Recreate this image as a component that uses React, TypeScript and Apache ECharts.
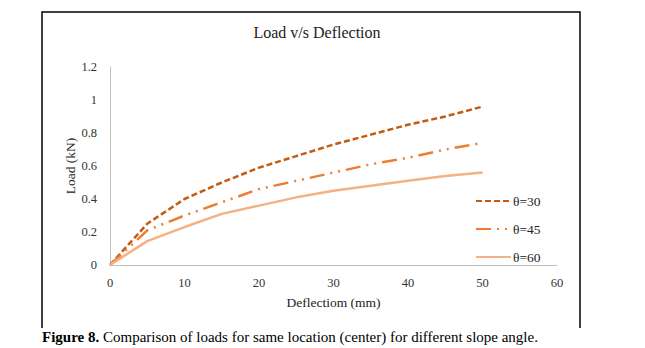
import React, { useEffect, useRef } from "react";
import * as echarts from "echarts";

// Deflection steps (mm) and measured loads (kN) per slope angle
const deflection = [0, 5, 10, 15, 20, 25, 30, 35, 40, 45, 50];
const loadTheta30 = [0, 0.25, 0.4, 0.5, 0.59, 0.66, 0.73, 0.79, 0.85, 0.9, 0.96];
const loadTheta45 = [0, 0.21, 0.3, 0.38, 0.46, 0.51, 0.56, 0.61, 0.65, 0.7, 0.74];
const loadTheta60 = [0, 0.145, 0.23, 0.31, 0.36, 0.41, 0.45, 0.48, 0.51, 0.54, 0.56];
const seriesNames = ["θ=30", "θ=45", "θ=60"];

const FONT = "'Liberation Serif', 'Times New Roman', serif";

const pairs = (ys: number[]) => deflection.map((x, i) => [x, ys[i]]);

export default function App() {
  const ref = useRef<HTMLDivElement>(null);

  useEffect(() => {
    if (!ref.current) return;
    const chart = echarts.init(ref.current, null, { renderer: "svg" });
    const tickText = { color: "#333", fontFamily: FONT, fontSize: 12.5 };
    chart.setOption({
      animation: false,
      backgroundColor: "#ffffff",
      title: {
        text: "Load v/s Deflection",
        left: 312,
        top: 19,
        textAlign: "center",
        textStyle: { color: "#222", fontFamily: FONT, fontSize: 16, fontWeight: "normal" },
      },
      grid: { left: 110, right: 88, top: 67, bottom: 83, containLabel: false },
      xAxis: {
        type: "value",
        min: 0,
        max: 60,
        interval: 10,
        name: "Deflectiom (mm)",
        nameLocation: "middle",
        nameGap: 30,
        nameMoveOverlap: false,
        nameTextStyle: { color: "#222", fontFamily: FONT, fontSize: 13.5 },
        axisLine: { show: true, lineStyle: { color: "#BFBFBF", width: 1 } },
        axisTick: { show: false },
        splitLine: { show: false },
        axisLabel: { ...tickText, margin: 11 },
      },
      yAxis: {
        type: "value",
        min: 0,
        max: 1.2,
        interval: 0.2,
        name: "Load (kN)",
        nameLocation: "middle",
        nameGap: 33,
        nameMoveOverlap: false,
        nameRotate: 90,
        nameTextStyle: { color: "#222", fontFamily: FONT, fontSize: 13.5 },
        axisLine: { show: true, lineStyle: { color: "#BFBFBF", width: 1 } },
        axisTick: { show: false },
        splitLine: { show: false },
        axisLabel: {
          ...tickText,
          margin: 13,
          formatter: (v: number) => String(Math.round(v * 10) / 10),
        },
      },
      legend: {
        orient: "vertical",
        left: 470,
        top: 189,
        itemWidth: 35,
        itemHeight: 12,
        itemGap: 14,
        data: seriesNames,
        // legend keys show the line pattern only, no marker
        itemStyle: { color: "rgba(0,0,0,0)", borderColor: "rgba(0,0,0,0)", borderWidth: 0 },
        textStyle: { color: "#222", fontFamily: FONT, fontSize: 13.5, padding: [0, 0, 0, -3] },
      },
      series: [
        {
          name: seriesNames[0],
          type: "line",
          data: pairs(loadTheta30),
          showSymbol: false,
          symbol: "none",
          lineStyle: { color: "#C55A11", width: 2.5, type: [6, 3] },
          itemStyle: { color: "#C55A11" },
        },
        {
          name: seriesNames[1],
          type: "line",
          data: pairs(loadTheta45),
          showSymbol: false,
          symbol: "none",
          lineStyle: { color: "#ED7D31", width: 2.5, type: [15, 6, 2, 6, 2, 6] },
          itemStyle: { color: "#ED7D31" },
        },
        {
          name: seriesNames[2],
          type: "line",
          data: pairs(loadTheta60),
          showSymbol: false,
          symbol: "none",
          lineStyle: { color: "#F4B183", width: 2.5, type: "solid" },
          itemStyle: { color: "#F4B183" },
        },
      ],
      graphic: [
        {
          type: "polyline",
          shape: { points: [[42, 328], [42, 12], [580, 12], [580, 328]] },
          style: { stroke: "#000", lineWidth: 1.5, fill: null },
          silent: true,
        },
        {
          type: "text",
          left: 42,
          top: 329,
          style: {
            text: "{b|Figure 8.} Comparison of loads for same location (center) for different slope angle.",
            fill: "#000",
            font: `15px ${FONT}`,
            rich: {
              b: { fontWeight: "bold", fontFamily: FONT, fontSize: 15, fill: "#000" },
            },
          },
        },
      ],
    });
    return () => chart.dispose();
  }, []);

  return (
    <div
      ref={ref}
      style={{ position: "fixed", left: 0, top: 0, width: 645, height: 348, background: "#fff" }}
    />
  );
}
